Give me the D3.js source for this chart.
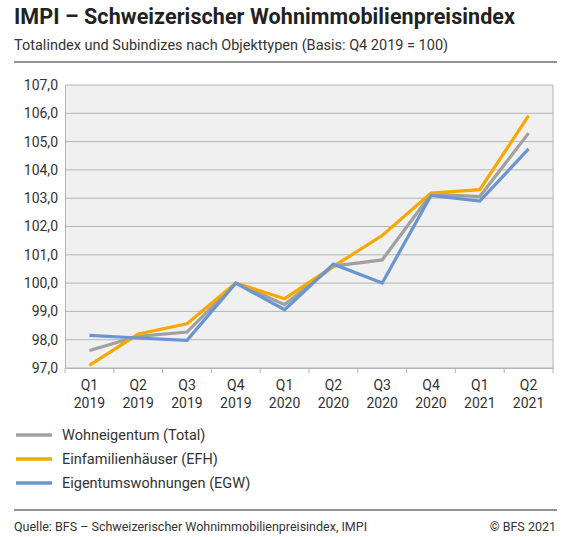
<!DOCTYPE html>
<html>
<head>
<meta charset="utf-8">
<script src="https://cdn.jsdelivr.net/npm/d3@7"></script>
<style>
  body { margin: 0; background: #fff; font-family: Roboto, "Noto Sans", sans-serif; }
</style>
</head>
<body>
<div id="container"></div>
<script>
// Data
const quarters = ['Q1|2019', 'Q2|2019', 'Q3|2019', 'Q4|2019', 'Q1|2020', 'Q2|2020', 'Q3|2020', 'Q4|2020', 'Q1|2021', 'Q2|2021'];
const total = [97.62, 98.12, 98.27, 100.0, 99.24, 100.6, 100.82, 103.14, 103.06, 105.3];
const efh = [97.09, 98.2, 98.56, 100.0, 99.45, 100.59, 101.68, 103.18, 103.3, 105.92];
const egw = [98.15, 98.06, 97.98, 100.0, 99.06, 100.67, 100.0, 103.1, 102.9, 104.74];
const yTicks = [97, 98, 99, 100, 101, 102, 103, 104, 105, 106, 107];
const seriesNames = ['Wohneigentum (Total)', 'Einfamilienhäuser (EFH)', 'Eigentumswohnungen (EGW)'];
const colors = ['#a0a0a0', '#f5a800', '#6a96d0'];

const width = 571, height = 537;
const plot = { left: 65, right: 553, top: 85, bottom: 368 };

const svg = d3.select('#container').append('svg')
    .attr('width', width)
    .attr('height', height);

// Title block
svg.append('text').attr('x', 14).attr('y', 24)
    .attr('font-size', 21.5).attr('font-weight', 'bold').attr('fill', '#222')
    .attr('textLength', 501)
    .text('IMPI – Schweizerischer Wohnimmobilienpreisindex');
svg.append('text').attr('x', 14).attr('y', 50)
    .attr('font-size', 14.5).attr('fill', '#333')
    .text('Totalindex und Subindizes nach Objekttypen (Basis: Q4 2019 = 100)');
svg.append('line').attr('x1', 14).attr('x2', 557).attr('y1', 62).attr('y2', 62)
    .attr('stroke', '#222').attr('stroke-width', 1);

// Scales
const xScale = d3.scaleBand().domain(quarters).range([plot.left, plot.right]);
const yScale = d3.scaleLinear().domain([97, 107]).range([plot.bottom, plot.top]);

svg.append('rect')
    .attr('x', plot.left).attr('y', plot.top)
    .attr('width', plot.right - plot.left).attr('height', plot.bottom - plot.top)
    .attr('fill', '#f0f0f0');

// Grid
svg.append('g').selectAll('line').data(yTicks).enter().append('line')
    .attr('x1', plot.left).attr('x2', plot.right)
    .attr('y1', d => yScale(d)).attr('y2', d => yScale(d))
    .attr('stroke', '#b4b4b4').attr('stroke-width', 1);
svg.append('line').attr('x1', plot.right).attr('x2', plot.right)
    .attr('y1', plot.top).attr('y2', plot.bottom).attr('stroke', '#b4b4b4');

// Y axis
const yAxis = svg.append('g')
    .attr('transform', 'translate(' + plot.left + ',0)')
    .call(d3.axisLeft(yScale).tickValues(yTicks).tickSize(0).tickPadding(7)
        .tickFormat(d => d3.format('.1f')(d).replace('.', ',')));
yAxis.select('.domain').attr('stroke', '#b4b4b4');
yAxis.selectAll('text').attr('font-size', 14).attr('fill', '#333').attr('font-family', 'Roboto');

// X axis
const xAxis = svg.append('g')
    .attr('transform', 'translate(0,' + plot.bottom + ')')
    .call(d3.axisBottom(xScale).tickSize(0).tickFormat(''));
xAxis.select('.domain').attr('stroke', '#b4b4b4');
svg.append('g').selectAll('line').data(quarters.concat(['end'])).enter().append('line')
    .attr('x1', (d, i) => plot.left + i * xScale.bandwidth())
    .attr('x2', (d, i) => plot.left + i * xScale.bandwidth())
    .attr('y1', plot.bottom).attr('y2', plot.bottom + 5)
    .attr('stroke', '#b4b4b4');
const xl = svg.append('g').selectAll('text').data(quarters).enter().append('text')
    .attr('x', d => xScale(d) + xScale.bandwidth() / 2)
    .attr('text-anchor', 'middle').attr('font-size', 14).attr('fill', '#333');
xl.append('tspan').attr('x', d => xScale(d) + xScale.bandwidth() / 2).attr('y', 390).text(d => d.split('|')[0]);
xl.append('tspan').attr('x', d => xScale(d) + xScale.bandwidth() / 2).attr('y', 408).text(d => d.split('|')[1]);

// Lines
const line = d3.line()
    .x((d, i) => xScale(quarters[i]) + xScale.bandwidth() / 2)
    .y(d => yScale(d));
[total, efh, egw].forEach((s, k) => {
    svg.append('path').datum(s)
        .attr('d', line).attr('fill', 'none')
        .attr('stroke', colors[k]).attr('stroke-width', 3.2);
});

// Legend
seriesNames.forEach((n, k) => {
    const y = 435 + k * 24;
    svg.append('line').attr('x1', 16).attr('x2', 52).attr('y1', y).attr('y2', y)
        .attr('stroke', colors[k]).attr('stroke-width', 3.5);
    svg.append('text').attr('x', 62).attr('y', y + 5)
        .attr('font-size', 14.5).attr('fill', '#333').text(n);
});

// Footer
svg.append('line').attr('x1', 14).attr('x2', 557).attr('y1', 510).attr('y2', 510)
    .attr('stroke', '#222').attr('stroke-width', 1);
svg.append('text').attr('x', 14).attr('y', 531)
    .attr('font-size', 12.5).attr('fill', '#333')
    .text('Quelle: BFS – Schweizerischer Wohnimmobilienpreisindex, IMPI');
svg.append('text').attr('x', 556).attr('y', 531).attr('text-anchor', 'end')
    .attr('font-size', 12.5).attr('fill', '#333').text('© BFS 2021');
</script>
</body>
</html>
